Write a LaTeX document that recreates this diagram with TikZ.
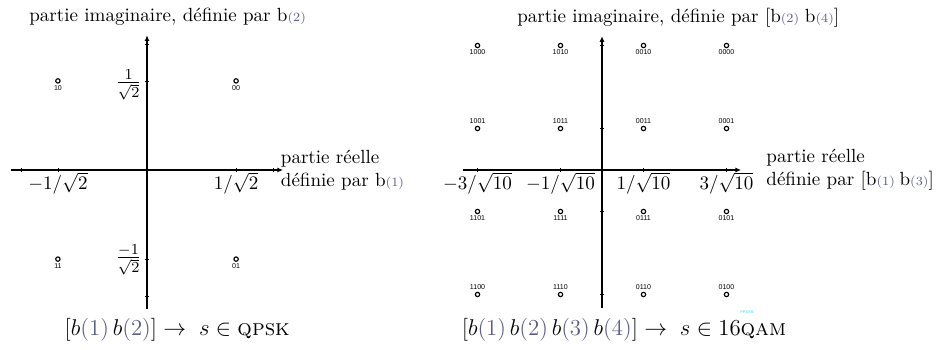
\documentclass[tikz,border=0pt]{standalone}
\usepackage{amsmath,amssymb}
\usepackage{fontspec}
\usepackage{xcolor}
\usepackage{tikz}
\usetikzlibrary{arrows.meta,positioning}
\newfontfamily\bitfont{Liberation Sans}
\definecolor{axc}{HTML}{000000}
\definecolor{idxc}{HTML}{5C5C8A}
\definecolor{wmc}{HTML}{33DDEE}
\newcommand{\bx}[1]{b{\color{idxc}(#1)}}
\newcommand{\bsm}[1]{b{\color{idxc}\fontsize{6.6}{8}\selectfont(#1)}}
\tikzset{
  ax/.style={-{Latex[length=3pt,width=2.6pt]},line width=0.6pt,axc},
  tk/.style={line width=0.4pt,axc},
  pt/.style={circle,draw=black,line width=0.6pt,fill=white,minimum size=2.3pt,inner sep=0pt},
  bits/.style={font=\bitfont\fontsize{3.7}{4}\selectfont,inner sep=0.3pt},
  lbl/.style={inner sep=0.5pt},
  axtxt/.style={anchor=west,align=left,inner sep=0pt}
}

\begin{document}
\begin{tikzpicture}[x=0.01846cm,y=0.01846cm]
\useasboundingbox (0,0) rectangle (937,349);
% QPSK
\begin{scope}[shift={(147,179)},x=2.326cm,y=2.326cm]
\coordinate (qW) at (-1.08,0);
\coordinate (qE) at (1.08,0);
\coordinate (qS) at (0,-1.10);
\coordinate (qN) at (0,1.07);
\draw[ax] (qW) -- (qE);
\draw[ax] (qS) -- (qN);
\foreach \t in {-1,-0.7071,0.7071,1}{
 \draw[tk] (\t,-0.016) -- (\t,0.016);
 \draw[tk] (-0.016,\t) -- (0.016,\t);}
\foreach \px/\py/\bits in {1/1/00,-1/1/10,-1/-1/11,1/-1/01}{
 \node[pt] (q\bits) at (0.7071*\px,0.7071*\py) {};
 \node[bits,below=0.4pt of q\bits] (lq\bits) {\bits};}
\node[lbl,anchor=north] (qxa) at (-0.7071,-0.01) {$-1/\sqrt{2}$};
\node[lbl,anchor=north] (qxb) at (0.7071,-0.01) {$1/\sqrt{2}$};
\node[lbl,anchor=east,font=\fontsize{11}{13}\selectfont] (qya) at (-0.032,0.675) {$\frac{1}{\sqrt{2}}$};
\node[lbl,anchor=east,font=\fontsize{11}{13}\selectfont] (qyb) at (-0.032,-0.714) {$\frac{-1}{\sqrt{2}}$};
\node[anchor=west,inner sep=0pt] (qim) at (-0.937,1.214) {partie imaginaire, définie par \bsm{2}};
\node[axtxt] (qre) at (1.06,0) {partie réelle\\définie par \bsm{1}};
\node[font=\large] (qcap) at (0.24,-1.27) {$[\bx{1}\,\bx{2}] \rightarrow\; s\in\text{\textsc{qpsk}}$};
\end{scope}
% 16QAM
\begin{scope}[shift={(602,179)},x=2.423cm,y=2.423cm]
\coordinate (mW) at (-1.06,0);
\coordinate (mE) at (1.06,0);
\coordinate (mS) at (0,-1.05);
\coordinate (mN) at (0,1.02);
\draw[ax] (mW) -- (mE);
\draw[ax] (mS) -- (mN);
\foreach \t in {-0.9487,-0.3162,0.3162,0.9487}{
 \draw[tk] (\t,-0.016) -- (\t,0.016);
 \draw[tk] (-0.016,\t) -- (0.016,\t);}
\foreach \iy/\sd/\ba/\bb/\bc/\bd in {3/below/1000/1010/0010/0000,1/above/1001/1011/0011/0001,-1/below/1101/1111/0111/0101,-3/above/1100/1110/0110/0100}{
 \foreach \ix/\bits in {-3/\ba,-1/\bb,1/\bc,3/\bd}{
  \node[pt] (m\bits) at (0.3162*\ix,0.3162*\iy) {};
  \node[bits,\sd=0.4pt of m\bits] (lm\bits) {\bits};}}
\node[lbl,anchor=north] (mxa) at (-0.9487,-0.01) {$-3/\sqrt{10}$};
\node[lbl,anchor=north] (mxb) at (-0.3162,-0.01) {$-1/\sqrt{10}$};
\node[lbl,anchor=north] (mxc) at (0.3162,-0.01) {$1/\sqrt{10}$};
\node[lbl,anchor=north] (mxd) at (0.9487,-0.01) {$3/\sqrt{10}$};
\node[anchor=west,inner sep=0pt] (mim) at (-0.648,1.158) {partie imaginaire, définie par [\bsm{2}\hspace{3pt}\bsm{4}]};
\node[axtxt] (mre) at (1.25,0) {partie réelle\\définie par [\bsm{1}\hspace{2.5pt}\bsm{3}]};
\node[font=\large] (mcap) at (0.168,-1.22) {$[\bx{1}\,\bx{2}\,\bx{3}\,\bx{4}] \rightarrow\; s\in 16\text{\textsc{qam}}$};
\node[font=\bitfont\fontsize{2}{2}\selectfont,text=wmc,inner sep=0pt] (wm) at (1.105,-1.082) {PP2005};
\end{scope}
\end{tikzpicture}
\end{document}
